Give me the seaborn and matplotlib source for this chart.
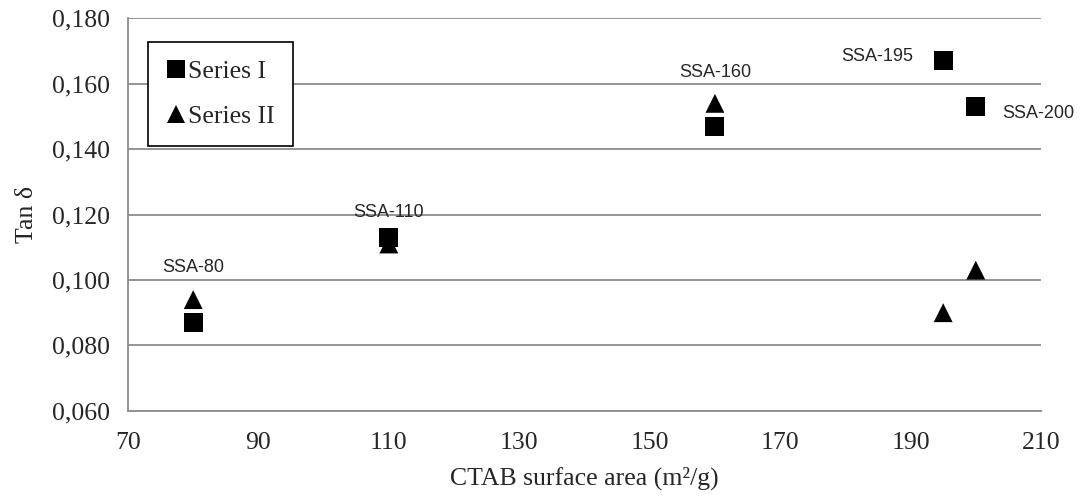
import matplotlib
matplotlib.use("Agg")
import matplotlib.pyplot as plt
import seaborn as sns
import pandas as pd

# ---- data ----
ctab = [80, 110, 160, 195, 200]
series_i = [0.087, 0.113, 0.147, 0.167, 0.153]
series_ii = [0.094, 0.111, 0.154, 0.090, 0.103]
labels = ["SSA-80", "SSA-110", "SSA-160", "SSA-195", "SSA-200"]
x_ticks = [70, 90, 110, 130, 150, 170, 190, 210]
y_ticks = [0.060, 0.080, 0.100, 0.120, 0.140, 0.160, 0.180]

df = pd.DataFrame({
    "x": ctab * 2,
    "y": series_i + series_ii,
    "series": ["Series I"] * len(ctab) + ["Series II"] * len(ctab),
})

sns.set_style("white")
plt.rcParams["font.family"] = ["Liberation Serif", "DejaVu Serif"]

fig = plt.figure(figsize=(10.81, 5.01), dpi=100)
ax = fig.add_axes([0.1184, 0.180, 0.8446, 0.7835])

grid_col = "#8c8c8c"
ax.set_axisbelow(True)
ax.grid(axis="y", color=grid_col, linewidth=1.3)
ax.grid(axis="x", visible=False)

sns.scatterplot(
    data=df, x="x", y="y", style="series", hue="series",
    markers={"Series I": "s", "Series II": "^"},
    palette={"Series I": "black", "Series II": "black"},
    s=185, linewidth=0, ax=ax, zorder=3,
)

# labels: anchor points in pixel offsets
anchors = [(80, 0.094, 0, 32), (110, 0.113, 0, 25), (160, 0.154, 0, 31),
           (195, 0.167, -66, 4), (200, 0.153, 62, -7)]
for lab, (ax_x, ax_y, dx, dy) in zip(labels, anchors):
    ax.annotate(lab, (ax_x, ax_y), xytext=(dx, dy), textcoords="offset pixels",
                ha="center", va="center", fontsize=13,
                family=["Liberation Sans", "DejaVu Sans"], zorder=4,
                annotation_clip=False)

ax.set_xlim(70, 210)
ax.set_ylim(0.060, 0.180)
ax.set_xticks(x_ticks)
ax.set_yticks(y_ticks)
ax.set_xticklabels([str(t) for t in x_ticks], fontsize=18.5)
ax.set_yticklabels([f"{t:.3f}".replace(".", ",") for t in y_ticks], fontsize=18.5)

for sp in ["top", "right"]:
    ax.spines[sp].set_visible(False)
for sp in ["left", "bottom"]:
    ax.spines[sp].set_color(grid_col)
    ax.spines[sp].set_linewidth(1.3)

ax.tick_params(axis="x", direction="out", length=7, width=1.3, color=grid_col, pad=8)
ax.tick_params(axis="y", direction="out", length=7, width=1.3, color=grid_col, pad=6)

ax.set_xlabel("CTAB surface area (m²/g)", fontsize=18.5, labelpad=9)
ax.set_ylabel("Tan δ", fontsize=18.5, labelpad=10)

leg = ax.legend(loc="upper left", bbox_to_anchor=(0.0219, 0.9396), borderaxespad=0,
                fontsize=18.5, frameon=True, fancybox=False, edgecolor="black",
                handletextpad=0.05, labelspacing=0.85, borderpad=0.7,
                handlelength=0.8, markerscale=0.95)
leg.get_frame().set_linewidth(1.2)
leg.get_frame().set_alpha(1)

fig.savefig("out.png", dpi=100)
